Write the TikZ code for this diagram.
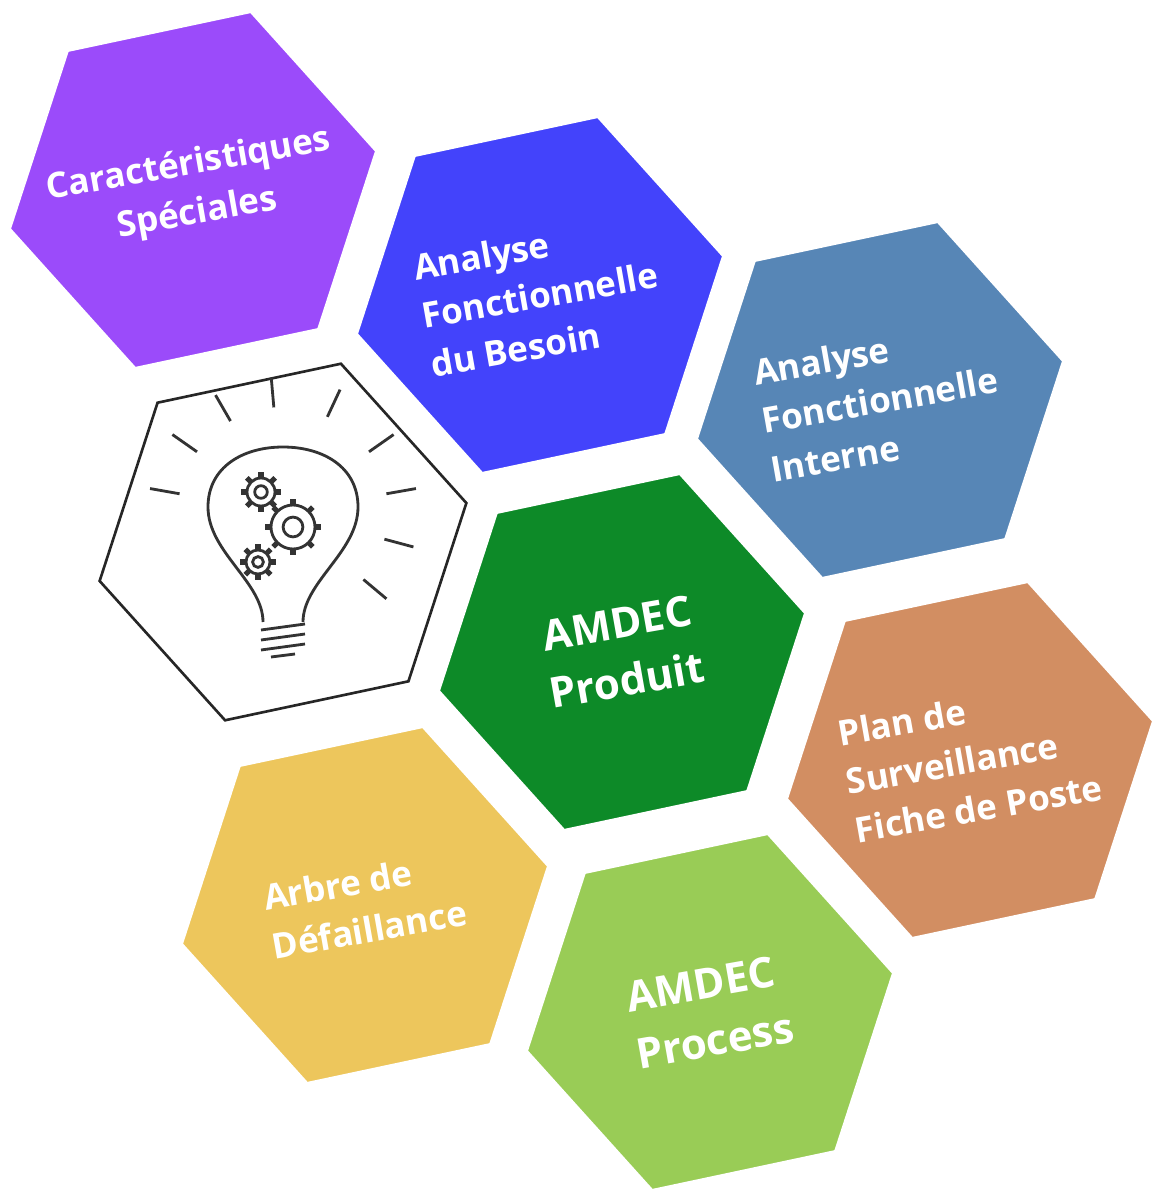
\documentclass[tikz,border=0pt]{standalone}
\usepackage{fontspec}
\setmainfont{Open Sans}
\usetikzlibrary{shapes.geometric}
\definecolor{cviolet}{HTML}{9B4BFA}
\definecolor{cbleu}{HTML}{4343FB}
\definecolor{cacier}{HTML}{5786B6}
\definecolor{cvert}{HTML}{0D8A28}
\definecolor{corange}{HTML}{D28E62}
\definecolor{cjaune}{HTML}{EDC65C}
\definecolor{cpomme}{HTML}{99CC56}
\begin{document}
\begin{tikzpicture}[x=0.02cm,y=-0.02cm]
\tikzstyle{hexa}=[regular polygon, regular polygon sides=6,
minimum size=7.5cm, inner sep=0pt, draw=white, line width=1.5pt,
rotate=10, shape border rotate=2]
\tikzstyle{label}=[text=white, rotate=10, align=left, font=\bfseries\fontsize{20}{28}\selectfont]
\tikzstyle{biglabel}=[label, align=center, font=\bfseries\fontsize{24}{33}\selectfont]
\tikzstyle{gear}=[line width=1.6pt, draw=black!80]

\useasboundingbox (0,0) rectangle (1162,1200);

\node[hexa, fill=cviolet] (CS) at (193,190) {};
\node[hexa, fill=cbleu] (AFB) at (540,295) {};
\node[hexa, fill=cacier] (AFI) at (880,400) {};
\node[hexa, fill=white, draw=black!85] (IDEE) at (283,542) {};
\node[hexa, fill=cvert] (AP) at (622,652) {};
\node[hexa, fill=corange] (PS) at (970,760) {};
\node[hexa, fill=cjaune] (AD) at (365,905) {};
\node[hexa, fill=cpomme] (APR) at (710,1012) {};

\node[label, align=center] at (CS) {Caractéristiques\\Spéciales};
\node[label] at (AFB) {Analyse\\Fonctionnelle\\du Besoin};
\node[label] at (AFI) {Analyse\\Fonctionnelle\\Interne};
\node[biglabel] at (AP) {AMDEC\\Produit};
\node[label] at (PS) {Plan de\\Surveillance\\Fiche de Poste};
\node[label] at (AD) {Arbre de\\Défaillance};
\node[biglabel, align=left] at (APR) {AMDEC\\Process};

%ampoule
\begin{scope}[shift={(IDEE.center)}, line width=1.6pt, draw=black!80]
\draw (-20,80) .. controls (-20,40) and (-75,10) .. (-75,-35)
  .. controls (-75,-75) and (-40,-95) .. (0,-95)
  .. controls (40,-95) and (75,-75) .. (75,-35)
  .. controls (75,10) and (20,40) .. (20,80);
\foreach \y in {88,98,108}
  \draw (-22,\y) -- (22,\y-6);
\draw (-12,115) -- (12,112);
%rayons
\foreach \a in {-170,-145,-120,-95,-65,-35,-10,15,40}
  \draw ({cos(\a)*105},{sin(\a)*105-30}) -- ({cos(\a)*135},{sin(\a)*135-30});
%engrenages
\foreach \cx/\cy/\r in {-22/-50/14,10/-15/22,-25/20/12}{
  \draw[gear] (\cx,\cy) circle (\r*0.45);
  \draw[gear] (\cx,\cy) circle (\r);
  \foreach \t in {0,45,...,315}
    \draw[line width=3pt] ({\cx+cos(\t)*\r},{\cy+sin(\t)*\r}) -- ({\cx+cos(\t)*(\r+6)},{\cy+sin(\t)*(\r+6)});
}
\end{scope}
\end{tikzpicture}
\end{document}
